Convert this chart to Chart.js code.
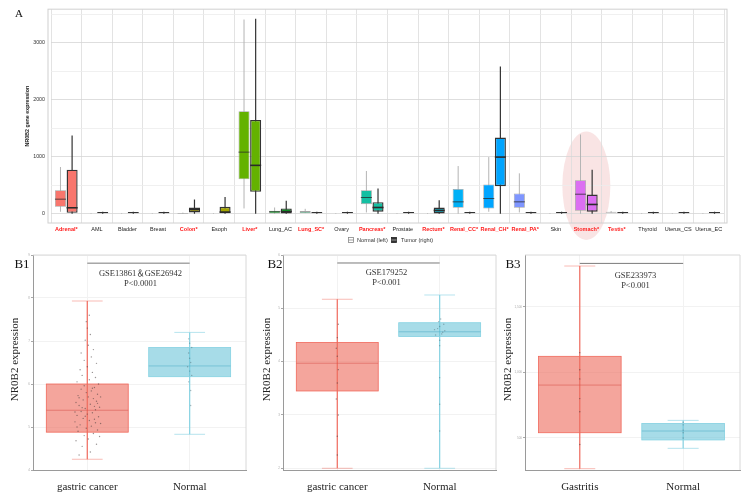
<!DOCTYPE html>
<html>
<head>
<meta charset="utf-8">
<script src="https://cdn.jsdelivr.net/npm/chart.js@4.4.1/dist/chart.umd.min.js"></script>
<style>
  html, body { margin: 0; padding: 0; background: #fff; }
  #wrap { position: relative; width: 744px; height: 496px; overflow: hidden; }
  canvas { position: absolute; }
</style>
</head>
<body>
<div id="wrap">
  <canvas id="topChart" width="744" height="250" style="left:0;top:0"></canvas>
  <canvas id="b1" width="250" height="248" style="left:0;top:248px"></canvas>
  <canvas id="b2" width="250" height="248" style="left:250px;top:248px"></canvas>
  <canvas id="b3" width="254" height="248" style="left:490px;top:248px"></canvas>
</div>
<script>
// ---- panel A data: [min, q1, median, q3, max]
const tissues = ['Adrenal*', 'AML', 'Bladder', 'Breast', 'Colon*', 'Esoph', 'Liver*', 'Lung_AC', 'Lung_SC*', 'Ovary',
  'Pancreas*', 'Prostate', 'Rectum*', 'Renal_CC*', 'Renal_CH*', 'Renal_PA*', 'Skin', 'Stomach*', 'Testis*', 'Thyroid',
  'Uterus_CS', 'Uterus_EC'];
const normalStats = [
  [35, 122, 256, 413, 820], [0, 0, 3, 8, 12], [0, 0, 3, 8, 12], [0, 0, 3, 8, 12], [0, 2, 5, 12, 20],
  [0, 0, 3, 8, 12], [93, 605, 1081, 1797, 3407], [0, 6, 35, 52, 110], [12, 12, 29, 47, 87], [0, 0, 3, 8, 12],
  [23, 169, 285, 413, 750], [0, 0, 3, 8, 12], [0, 0, 3, 8, 12], [0, 105, 209, 436, 837], [35, 93, 267, 512, 994],
  [23, 105, 209, 355, 709], [0, 0, 3, 8, 12], [0, 52, 343, 587, 1390], [17, 17, 26, 35, 47], [0, 0, 3, 8, 12],
  [0, 0, 3, 8, 12], [0, 0, 3, 8, 12]
];
const tumorStats = [
  [0, 17, 105, 773, 1372], [0, 0, 10, 30, 36], [0, 0, 10, 30, 36], [0, 0, 10, 30, 36], [0, 23, 75, 110, 250],
  [0, 0, 30, 122, 296], [0, 384, 849, 1645, 3419], [0, 6, 40, 93, 227], [0, 0, 10, 30, 36], [0, 0, 10, 30, 36],
  [0, 35, 110, 203, 442], [0, 0, 10, 30, 36], [0, 6, 58, 110, 238], [0, 0, 10, 30, 36], [0, 483, 994, 1337, 2581],
  [0, 0, 10, 30, 36], [0, 0, 10, 30, 36], [0, 35, 163, 337, 773], [0, 0, 10, 30, 36], [0, 0, 10, 30, 36],
  [0, 0, 10, 30, 36], [0, 0, 10, 30, 36]
];
const yTicksA = [0, 500, 1000, 1500, 2000, 2500, 3000, 3500];
const highlightTissue = 'Stomach*';
const highlightRange = [-459, 1443];

// ---- panel B data
const b1Groups = ['gastric cancer', 'Normal'];
const b1Stats = [[4.25, 4.88, 5.39, 6.0, 7.93], [4.83, 6.17, 6.42, 6.85, 7.2]];
const b1Ticks = [4, 5, 6, 7, 8, 9];
const b1Bracket = 8.81;
const b1Text = ['GSE13861＆GSE26942', 'P<0.0001'];
const b1CancerPts = [
  [-0.08, 4.35], [0.03, 4.42], [-0.05, 4.55], [0.09, 4.6], [-0.11, 4.68], [0.01, 4.72], [0.12, 4.78], [-0.03, 4.8],
  [0.06, 4.85], [-0.09, 4.9], [0.1, 4.93], [-0.01, 4.97], [0.04, 5.02], [-0.07, 5.05], [0.13, 5.08], [-0.12, 5.12],
  [0.02, 5.15], [0.07, 5.18], [-0.04, 5.2], [0.11, 5.24], [-0.1, 5.27], [0.0, 5.3], [0.05, 5.33], [-0.06, 5.36],
  [0.08, 5.4], [-0.02, 5.43], [0.12, 5.46], [-0.08, 5.5], [0.03, 5.53], [-0.11, 5.57], [0.09, 5.6], [-0.04, 5.63],
  [0.06, 5.66], [0.01, 5.7], [-0.09, 5.73], [0.1, 5.76], [-0.01, 5.8], [0.04, 5.84], [-0.06, 5.88], [0.07, 5.92],
  [-0.03, 5.96], [0.11, 6.0], [-0.1, 6.05], [0.02, 6.1], [0.08, 6.15], [-0.05, 6.2], [0.05, 6.27], [-0.07, 6.33],
  [0.0, 6.4], [0.09, 6.48], [-0.03, 6.55], [0.04, 6.63], [-0.06, 6.72], [0.06, 6.8], [0.01, 6.9], [-0.02, 7.02],
  [0.03, 7.15], [0.0, 7.3], [-0.01, 7.45], [0.02, 7.6], [-0.1, 5.0], [0.08, 5.1], [-0.05, 5.45], [0.1, 5.55],
  [-0.08, 5.68], [0.05, 5.9], [-0.12, 5.35], [0.13, 5.7], [-0.02, 5.25], [0.07, 5.48]
];
const b1NormalPts = [[0.01, 5.85], [-0.01, 6.05], [0.02, 6.2], [0.0, 6.3], [-0.02, 6.4], [0.01, 6.5], [0.0, 6.6],
  [-0.01, 6.72], [0.02, 6.85], [0.0, 6.95], [-0.01, 7.05], [0.01, 5.5]];

const b2Groups = ['gastric cancer', 'Normal'];
const b2Stats = [[2.0, 3.45, 3.97, 4.36, 5.17], [2.0, 4.47, 4.56, 4.73, 5.25]];
const b2Ticks = [2, 3, 4, 5, 6];
const b2Bracket = 5.85;
const b2Text = ['GSE179252', 'P<0.001'];
const b2CancerPts = [[0, 2.6], [0.01, 3.0], [-0.01, 3.3], [0, 3.6], [0.01, 3.85], [0, 4.1], [-0.01, 4.25], [0, 4.45],
  [0.01, 4.7], [0, 2.25]];
const b2NormalPts = [[-0.04, 4.5], [0.02, 4.52], [0.05, 4.58], [-0.02, 4.62], [0.0, 4.66], [0.04, 4.7], [-0.05, 4.6],
  [0.03, 4.55], [-0.01, 4.75], [0.01, 4.8], [0, 4.4], [0, 4.3], [0, 3.7], [0, 3.2], [0, 2.7]];

const b3Groups = ['Gastritis', 'Normal'];
const b3Stats = [[266, 540, 903, 1122, 1810], [421, 485, 553, 611, 634]];
const b3Ticks = [500, 1000, 1500];
const b3Bracket = 1830;
const b3Text = ['GSE233973', 'P<0.001'];
const b3GastritisPts = [[0, 450], [0, 700], [0, 800], [0, 950], [0, 1020], [0, 1150]];
const b3NormalPts = [[0, 500], [0, 540], [0, 560], [0, 600], [0, 620]];

// ---- styles
const SANS = '"Liberation Sans", Arial, sans-serif';
const SERIF = '"Liberation Serif", "Times New Roman", serif';
const tissueColors = ['#F8766D', '#EC823C', '#DE8C00', '#CD9600', '#ACA11A', '#A3A500', '#64B200', '#00B81F', '#00BE67',
  '#00C08B', '#14BFA2', '#00BCC4', '#1CA9C0', '#00B0F6', '#00A5FF', '#7F96FF', '#B385FF', '#DC6FF2', '#F264D4',
  '#FF61C3', '#FF67A4', '#FF6C90'];

// whiskers behind the boxes, medians on top
const boxWhiskers = {
  id: 'boxWhiskers',
  beforeDraw(chart) {
    const { ctx } = chart;
    const x = chart.scales.x, y = chart.scales.y;
    const cx = x.getPixelForValue(tissues.indexOf(highlightTissue));
    const y0 = y.getPixelForValue(highlightRange[0]), y1 = y.getPixelForValue(highlightRange[1]);
    ctx.save();
    ctx.fillStyle = 'rgba(236, 170, 170, 0.32)';
    ctx.beginPath();
    ctx.ellipse(cx, (y0 + y1) / 2, 24, (y0 - y1) / 2, 0, 0, Math.PI * 2);
    ctx.fill();
    ctx.restore();
  },
  beforeDatasetsDraw(chart) {
    const { ctx } = chart;
    const y = chart.scales.y;
    chart.data.datasets.forEach((ds, di) => {
      chart.getDatasetMeta(di).data.forEach((bar, i) => {
        const s = ds.stats[i];
        ctx.save();
        ctx.strokeStyle = ds.whiskerColor;
        ctx.lineWidth = ds.whiskerWidth;
        ctx.beginPath();
        ctx.moveTo(bar.x, y.getPixelForValue(s[0]));
        ctx.lineTo(bar.x, y.getPixelForValue(s[4]));
        ctx.stroke();
        ctx.restore();
      });
    });
  },
  afterDatasetsDraw(chart) {
    const { ctx } = chart;
    const y = chart.scales.y;
    chart.data.datasets.forEach((ds, di) => {
      chart.getDatasetMeta(di).data.forEach((bar, i) => {
        const s = ds.stats[i];
        if (s[3] - s[1] < 40) return;
        const py = y.getPixelForValue(s[2]);
        ctx.save();
        ctx.strokeStyle = ds.medianColor;
        ctx.lineWidth = ds.medianWidth;
        ctx.beginPath();
        ctx.moveTo(bar.x - bar.width / 2, py);
        ctx.lineTo(bar.x + bar.width / 2, py);
        ctx.stroke();
        ctx.restore();
      });
    });
  },
  afterDraw(chart) {
    const { ctx, chartArea: ca } = chart;
    ctx.save();
    ctx.strokeStyle = '#d0d0d0';
    ctx.lineWidth = 1;
    ctx.strokeRect(ca.left - 3, ca.top, ca.right - ca.left + 6, ca.bottom - ca.top);
    // panel letter
    ctx.fillStyle = '#111';
    ctx.font = '11px ' + SERIF;
    ctx.textAlign = 'left';
    ctx.textBaseline = 'middle';
    ctx.fillText('A', 15, 14);
    // y title
    ctx.save();
    ctx.translate(28, (ca.top + ca.bottom) / 2);
    ctx.rotate(-Math.PI / 2);
    ctx.font = 'bold 5.3px ' + SANS;
    ctx.textAlign = 'center';
    ctx.fillStyle = '#222';
    ctx.fillText('NR0B2 gene expression', 0, 0);
    ctx.restore();
    // legend
    const ly = 240;
    ctx.lineWidth = 0.8;
    ctx.fillStyle = '#fff';
    ctx.strokeStyle = '#888';
    ctx.fillRect(348.5, ly - 2.5, 5, 5);
    ctx.strokeRect(348.5, ly - 2.5, 5, 5);
    ctx.beginPath(); ctx.moveTo(348.5, ly); ctx.lineTo(353.5, ly); ctx.stroke();
    ctx.fillStyle = '#333';
    ctx.fillRect(391.5, ly - 2.5, 5, 5);
    ctx.strokeStyle = '#222';
    ctx.strokeRect(391.5, ly - 2.5, 5, 5);
    ctx.strokeStyle = '#bbb';
    ctx.beginPath(); ctx.moveTo(391.5, ly); ctx.lineTo(396.5, ly); ctx.stroke();
    ctx.fillStyle = '#333';
    ctx.font = '5.6px ' + SANS;
    ctx.textAlign = 'left';
    ctx.fillText('Normal (left)', 357, ly);
    ctx.fillText('Tumor (right)', 401, ly);
    ctx.restore();
  }
};

new Chart(document.getElementById('topChart'), {
  type: 'bar',
  data: {
    labels: tissues,
    datasets: [{
      label: 'Normal',
      data: normalStats.map(s => [s[1], s[3]]),
      stats: normalStats,
      backgroundColor: tissueColors,
      borderColor: '#a4a4a4',
      borderWidth: 0.8,
      borderSkipped: false,
      whiskerColor: '#b4b4b4',
      whiskerWidth: 1,
      medianColor: 'rgba(40,40,40,0.75)',
      medianWidth: 1,
      categoryPercentage: 0.76,
      barPercentage: 0.95
    }, {
      label: 'Tumor',
      data: tumorStats.map(s => [s[1], s[3]]),
      stats: tumorStats,
      backgroundColor: tissueColors,
      borderColor: '#333',
      borderWidth: 1.4,
      borderSkipped: false,
      whiskerColor: '#333',
      whiskerWidth: 1.2,
      medianColor: '#2a2a2a',
      medianWidth: 1.6,
      categoryPercentage: 0.76,
      barPercentage: 0.95
    }]
  },
  options: {
    responsive: false,
    animation: false,
    events: [],
    layout: { padding: { left: 24, right: 20, top: 8, bottom: 0 } },
    plugins: { legend: { display: false }, tooltip: { enabled: false } },
    scales: {
      x: {
        afterFit: s => { s.height = 27; },
        grid: { offset: true, color: '#dcdcdc', lineWidth: 0.8, drawTicks: false },
        border: { display: false },
        ticks: {
          autoSkip: false,
          maxRotation: 0,
          padding: 3,
          color: c => tissues[c.index].includes('*') ? '#ff1a1a' : '#222',
          font: c => ({ family: SANS, size: 5.5, weight: tissues[c.index].includes('*') ? 'bold' : 'normal' })
        }
      },
      y: {
        min: -162,
        max: 3588,
        afterFit: s => { s.width = 27; },
        afterBuildTicks: s => { s.ticks = yTicksA.map(v => ({ value: v })); },
        grid: {
          color: c => c.tick && c.tick.value % 1000 === 0 ? '#d6d6d6' : '#ececec',
          lineWidth: 0.8,
          drawTicks: false
        },
        border: { display: false },
        ticks: {
          padding: 6,
          color: '#333',
          font: { family: SANS, size: 5.3 },
          callback: v => v % 1000 === 0 ? String(v) : ''
        }
      }
    }
  },
  plugins: [boxWhiskers]
});

// ---- panels B1-B3
const panels = {
  b1: { label: 'B1', groups: b1Groups, stats: b1Stats, ticks: b1Ticks, bracket: b1Bracket, text: b1Text,
        pts: [b1CancerPts, b1NormalPts], yMin: 4, yMax: 9, axisW: 33, padRight: 3, labelDx: -11, titleDx: -18, textDx: 2, textDy: 11 },
  b2: { label: 'B2', groups: b2Groups, stats: b2Stats, ticks: b2Ticks, bracket: b2Bracket, text: b2Text,
        pts: [b2CancerPts, b2NormalPts], yMin: 1.968, yMax: 6, axisW: 33, padRight: 2, labelDx: -8, titleDx: -16, textDx: -2, textDy: 10 },
  b3: { label: 'B3', groups: b3Groups, stats: b3Stats, ticks: b3Ticks, bracket: b3Bracket, text: b3Text,
        pts: [b3GastritisPts, b3NormalPts], yMin: 256, yMax: 1894, axisW: 35, padRight: 3, labelDx: -12, titleDx: -17, textDx: 4, textDy: 12 }
};
const groupFill = ['rgba(238,110,95,0.62)', 'rgba(108,197,217,0.6)'];
const groupLine = ['#F0695C', '#85D2E2'];
const groupCap = ['rgba(240,105,92,0.45)', 'rgba(133,210,226,0.6)'];
const groupMedian = ['rgba(215,85,75,0.7)', 'rgba(80,175,200,0.7)'];
const dotColors = ['rgba(70,60,60,0.55)', 'rgba(80,110,120,0.5)'];

const boxDraw = {
  id: 'boxDraw',
  beforeDatasetsDraw(chart) {
    const p = panels[chart.canvas.id];
    const { ctx } = chart;
    const x = chart.scales.x, y = chart.scales.y;
    p.stats.forEach((s, g) => {
      const cx = x.getPixelForValue(g + 1);
      const half = x.getPixelForValue(g + 1.4) - cx;
      const cap = x.getPixelForValue(g + 1.15) - cx;
      const [pMin, pQ1, pMed, pQ3, pMax] = s.map(v => y.getPixelForValue(v));
      ctx.save();
      ctx.strokeStyle = groupCap[g];
      ctx.lineWidth = 1;
      ctx.beginPath();
      ctx.moveTo(cx - cap, pMin); ctx.lineTo(cx + cap, pMin);
      ctx.moveTo(cx - cap, pMax); ctx.lineTo(cx + cap, pMax);
      ctx.stroke();
      ctx.strokeStyle = groupLine[g];
      ctx.lineWidth = 1.2;
      ctx.beginPath();
      ctx.moveTo(cx, pMin); ctx.lineTo(cx, pMax);
      ctx.stroke();
      ctx.fillStyle = groupFill[g];
      ctx.fillRect(cx - half, pQ3, half * 2, pQ1 - pQ3);
      ctx.strokeStyle = groupLine[g];
      ctx.lineWidth = 0.8;
      ctx.strokeRect(cx - half, pQ3, half * 2, pQ1 - pQ3);
      ctx.strokeStyle = groupMedian[g];
      ctx.lineWidth = 0.8;
      ctx.beginPath();
      ctx.moveTo(cx - half, pMed); ctx.lineTo(cx + half, pMed);
      ctx.stroke();
      ctx.restore();
    });
  },
  afterDraw(chart) {
    const p = panels[chart.canvas.id];
    const { ctx, chartArea: ca } = chart;
    const x = chart.scales.x, y = chart.scales.y;
    ctx.save();
    // light frame top/right
    ctx.strokeStyle = '#d8d8d8';
    ctx.lineWidth = 1;
    ctx.beginPath();
    ctx.moveTo(ca.left, ca.top); ctx.lineTo(ca.right, ca.top); ctx.lineTo(ca.right, ca.bottom);
    ctx.stroke();
    // significance bracket
    const by = y.getPixelForValue(p.bracket);
    const x1 = x.getPixelForValue(1), x2 = x.getPixelForValue(2);
    ctx.strokeStyle = '#7a7a7a';
    ctx.beginPath();
    ctx.moveTo(x1, by); ctx.lineTo(x2, by);
    ctx.stroke();
    ctx.fillStyle = '#333';
    ctx.textAlign = 'center';
    ctx.textBaseline = 'middle';
    ctx.font = '8.5px ' + SERIF + ', "Noto Sans CJK SC"';
    ctx.fillText(p.text[0], (x1 + x2) / 2 + p.textDx, by + p.textDy);
    ctx.fillText(p.text[1], (x1 + x2) / 2 + p.textDx, by + p.textDy + 10);
    // panel label
    ctx.fillStyle = '#111';
    ctx.font = '13px ' + SERIF;
    ctx.fillText(p.label, ca.left + p.labelDx, ca.top + 10);
    // y title
    ctx.translate(ca.left + p.titleDx, (ca.top + ca.bottom) / 2 - 3);
    ctx.rotate(-Math.PI / 2);
    ctx.font = '11px ' + SERIF;
    ctx.fillStyle = '#222';
    ctx.fillText('NR0B2 expression', 0, 0);
    ctx.restore();
  }
};

Object.keys(panels).forEach(id => {
  const p = panels[id];
  new Chart(document.getElementById(id), {
    type: 'scatter',
    data: {
      datasets: p.pts.map((pts, g) => ({
        data: pts.map(d => ({ x: g + 1 + d[0], y: d[1] })),
        pointRadius: 0.7,
        pointBorderWidth: 0,
        pointBackgroundColor: dotColors[g]
      }))
    },
    options: {
      responsive: false,
      animation: false,
      events: [],
      layout: { padding: { left: 0, right: p.padRight, top: 7, bottom: 0 } },
      plugins: { legend: { display: false }, tooltip: { enabled: false } },
      scales: {
        x: {
          type: 'linear',
          min: 0.47,
          max: 2.55,
          afterFit: s => { s.height = 26; },
          afterBuildTicks: s => { s.ticks = [{ value: 1 }, { value: 2 }]; },
          grid: { color: '#f2f2f2', drawTicks: false },
          border: { color: '#9a9a9a' },
          ticks: { padding: 11, color: '#222', font: { family: SERIF, size: 11 }, callback: v => p.groups[v - 1] }
        },
        y: {
          min: p.yMin,
          max: p.yMax,
          afterFit: s => { s.width = p.axisW; },
          afterBuildTicks: s => { s.ticks = p.ticks.map(v => ({ value: v })); },
          grid: { color: '#f2f2f2', tickLength: 2, tickColor: '#aaa' },
          border: { color: '#9a9a9a' },
          ticks: { padding: 1, color: '#aaa', font: { family: SANS, size: 3 } }
        }
      }
    },
    plugins: [boxDraw]
  });
});
</script>
</body>
</html>
